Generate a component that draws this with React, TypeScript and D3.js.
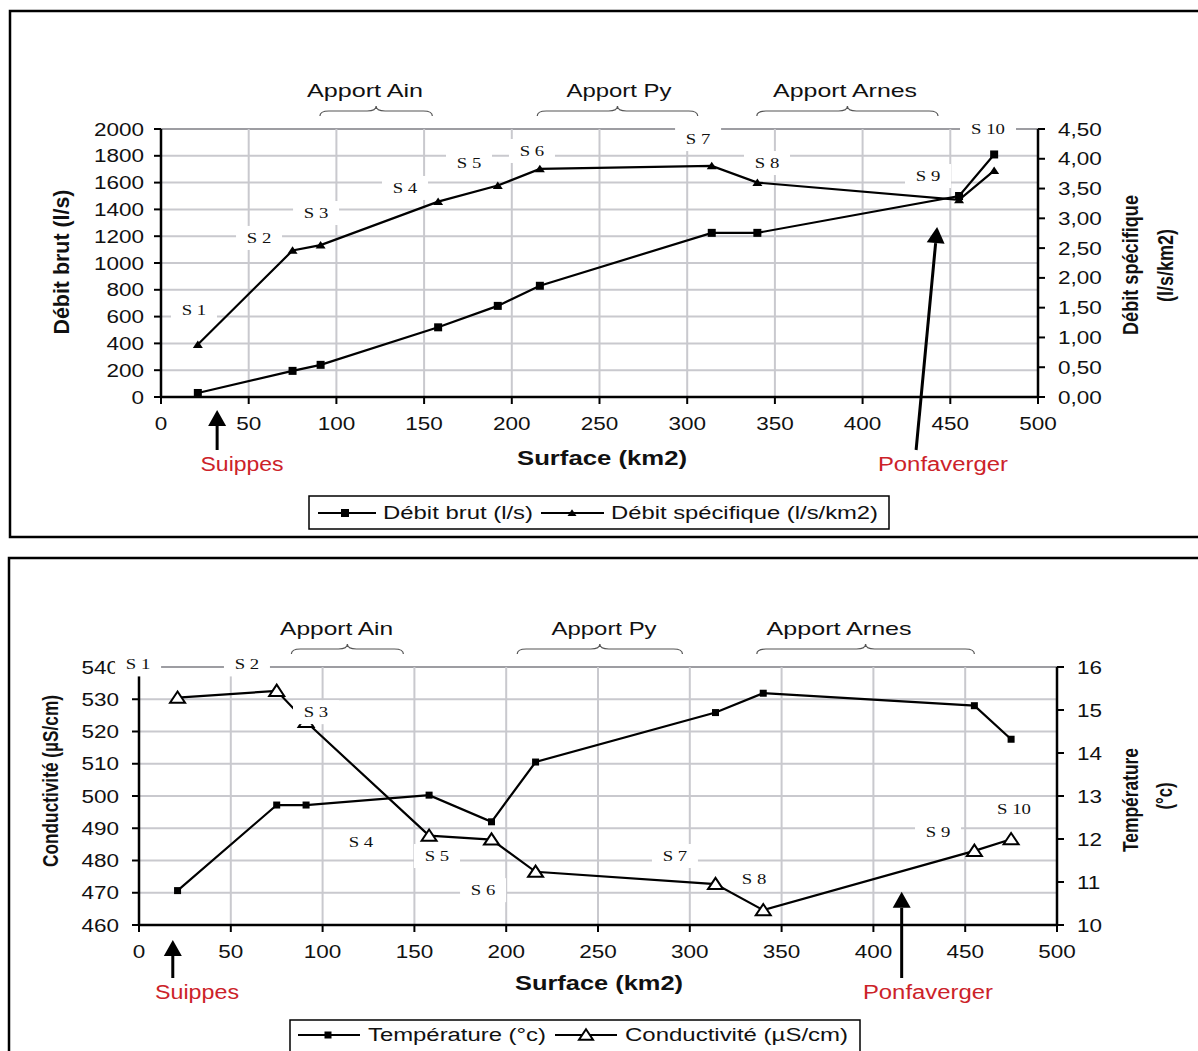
import React from 'react';
import * as d3 from 'd3';

// stations, from upstream (Suippes) to downstream (Ponfaverger)
const sites = ['S 1', 'S 2', 'S 3', 'S 4', 'S 5', 'S 6', 'S 7', 'S 8', 'S 9', 'S 10'];
const surface = [21, 75, 91, 158, 192, 216, 314, 340, 455, 475];

// chart 1
const debitBrut = [30, 195, 240, 520, 680, 830, 1225, 1225, 1500, 1810];
const debitSpecifique = [0.88, 2.46, 2.55, 3.28, 3.55, 3.83, 3.88, 3.6, 3.31, 3.8];

// chart 2
const temperature = [10.8, 12.79, 12.79, 13.02, 12.4, 13.79, 14.94, 15.39, 15.1, 14.32];
const conductivite = [530.5, 532.6, 523, 487.7, 486.5, 476.5, 472.7, 464.6, 483, 486.6];

const surfaceTicks = d3.range(0, 501, 50);
const debitTicks = d3.range(0, 2001, 200);
const specTicks = d3.range(0, 4.51, 0.5);
const condTicks = d3.range(460, 541, 10);
const tempTicks = d3.range(10, 17, 1);

const apports = ['Apport Ain', 'Apport Py', 'Apport Arnes'];

// annotation placement, in chart units (surface, left axis value)
const labelPosTop: [number, number][] = [
  [18.8, 649], [55.9, 1187], [88.4, 1373], [139.1, 1560], [175.6, 1746],
  [211.5, 1836], [306.2, 1925], [345.5, 1746], [437.3, 1649], [471.5, 2000],
];
const labelPosBottom: [number, number][] = [
  [-0.5, 540.8], [58.8, 540.8], [96.4, 526], [120.9, 485.7], [162.3, 481.4],
  [187.4, 470.8], [291.9, 481.4], [335, 474.2], [435.2, 488.8], [476.6, 495.9],
];
const braceTop = [[90.6, 154.7], [214.5, 306], [339.7, 443]];
const braceTextTop = [116.3, 261.1, 390];
const braceBottom = [[83, 144], [206, 296], [336.5, 455]];
const braceTextBottom = [107.6, 253.3, 381.3];

const FONT = '"Liberation Sans", Arial, sans-serif';
const NARROW = '"Liberation Sans Narrow", "Arial Narrow", "Liberation Sans", Arial, sans-serif';
const SERIF = '"Liberation Serif", "Times New Roman", serif';
const RED = '#cc2229';
const GRID = '#c9c9ce';

type Marker = 'square' | 'triFill' | 'triOpen';

interface Series {
  values: number[];
  axis: 'left' | 'right';
  marker: Marker;
  size: number;
}

interface Arrow {
  label: string;
  labelX: number;
  labelLen: number;
  tipX: number;
  tipVal: number | null; // null: tip sits under the x axis
  tipOff: number;
  tailX: number;
}

interface ChartProps {
  plot: { l: number; r: number; t: number; b: number };
  leftDomain: [number, number];
  rightDomain: [number, number];
  leftTicks: number[];
  rightTicks: number[];
  rightFmt: (v: number) => string;
  leftGap: number;
  series: Series[];
  labelPos: [number, number][];
  braces: number[][];
  braceText: number[];
  braceTextLen: number[];
  arrows: Arrow[];
  leftTitle: { text: string; cx: number; cy: number; len: number };
  rightTitle: { lines: string[]; cx: number[]; cy: number[]; len: number[] };
  xTitle: { cx: number; y: number; len: number };
}

const Stretch = ({ x, y, sx = 1.25, size = 18, anchor = 'start', family = FONT, weight = 'normal', fill = '#111', children }: any) => (
  <text
    transform={`translate(${x},${y}) scale(${sx},1)`}
    textAnchor={anchor}
    fontSize={size}
    fontFamily={family}
    fontWeight={weight}
    fill={fill}
  >
    {children}
  </text>
);

const Fixed = ({ x, y, len, size = 18, anchor = 'middle', family = FONT, weight = 'normal', fill = '#111', rotate = 0, children }: any) => (
  <text
    transform={`translate(${x},${y}) rotate(${rotate})`}
    textAnchor={anchor}
    fontSize={size}
    fontFamily={family}
    fontWeight={weight}
    fill={fill}
    textLength={len}
    lengthAdjust="spacingAndGlyphs"
  >
    {children}
  </text>
);

const MarkerShape = ({ kind, x, y, size }: { kind: Marker; x: number; y: number; size: number }) => {
  if (kind === 'square') {
    return <rect x={x - size / 2} y={y - size / 2} width={size} height={size} fill="#000" />;
  }
  const h = size * 0.75;
  const pts = `${x},${y - h * 0.55} ${x + size / 2},${y + h * 0.45} ${x - size / 2},${y + h * 0.45}`;
  if (kind === 'triFill') return <polygon points={pts} fill="#000" />;
  return <polygon points={pts} fill="#fff" stroke="#000" strokeWidth={2} strokeLinejoin="miter" />;
};

function bracePath(x1: number, x2: number, y: number) {
  const m = (x1 + x2) / 2;
  return `M${x1},${y + 5} Q${x1},${y} ${x1 + 9},${y} L${m - 9},${y} Q${m},${y} ${m},${y - 5} ` +
    `Q${m},${y} ${m + 9},${y} L${x2 - 9},${y} Q${x2},${y} ${x2},${y + 5}`;
}

const Chart = (p: ChartProps) => {
  const { l, r, t, b } = p.plot;
  const x = d3.scaleLinear().domain([0, 500]).range([l, r]);
  const yL = d3.scaleLinear().domain(p.leftDomain).range([b, t]);
  const yR = d3.scaleLinear().domain(p.rightDomain).range([b, t]);
  const fmtL = d3.format('d');

  return (
    <g>
      {/* grid */}
      {p.leftTicks.slice(1).map((v, i) => (
        <line key={`h${i}`} x1={l} x2={r} y1={yL(v)} y2={yL(v)}
          stroke={i === p.leftTicks.length - 2 ? '#9d9da2' : GRID} strokeWidth={2} />
      ))}
      {surfaceTicks.slice(1, -1).map((v) => (
        <line key={`v${v}`} x1={x(v)} x2={x(v)} y1={t} y2={b} stroke={GRID} strokeWidth={2} />
      ))}

      {/* axes */}
      <line x1={l} x2={l} y1={t} y2={b} stroke="#000" strokeWidth={2.5} />
      <line x1={r} x2={r} y1={t} y2={b} stroke="#000" strokeWidth={2.5} />
      <line x1={l} x2={r} y1={b} y2={b} stroke="#000" strokeWidth={2.5} />
      {p.leftTicks.map((v) => (
        <g key={`lt${v}`}>
          <line x1={l - 7} x2={l} y1={yL(v)} y2={yL(v)} stroke="#000" strokeWidth={2} />
          <Stretch x={l - p.leftGap} y={yL(v) + 6.5} anchor="end">{fmtL(v)}</Stretch>
        </g>
      ))}
      {p.rightTicks.map((v) => (
        <g key={`rt${v}`}>
          <line x1={r} x2={r + 7} y1={yR(v)} y2={yR(v)} stroke="#000" strokeWidth={2} />
          <Stretch x={r + 20} y={yR(v) + 6.5}>{p.rightFmt(v)}</Stretch>
        </g>
      ))}
      {surfaceTicks.map((v) => (
        <g key={`bt${v}`}>
          <line x1={x(v)} x2={x(v)} y1={b} y2={b + 7} stroke="#000" strokeWidth={2} />
          <Stretch x={x(v)} y={b + 33} anchor="middle">{v}</Stretch>
        </g>
      ))}

      {/* series */}
      {p.series.map((s, si) => {
        const ys = s.axis === 'left' ? yL : yR;
        const line = d3.line<number>().x((_, i) => x(surface[i])).y((d) => ys(d));
        return (
          <g key={`s${si}`}>
            <path d={line(s.values) || ''} fill="none" stroke="#000" strokeWidth={2.2} />
            {s.values.map((v, i) => (
              <MarkerShape key={i} kind={s.marker} x={x(surface[i])} y={ys(v)} size={s.size} />
            ))}
          </g>
        );
      })}

      {/* station labels */}
      {sites.map((s, i) => {
        const cx = x(p.labelPos[i][0]);
        const cy = yL(p.labelPos[i][1]);
        const w = s.length > 3 ? 56 : 46;
        return (
          <g key={`lab${i}`}>
            <rect x={cx - w / 2} y={cy - 12} width={w} height={24} fill="#fff" />
            <Stretch x={cx} y={cy + 5} size={15} sx={1.25} family={SERIF} anchor="middle">{s}</Stretch>
          </g>
        );
      })}

      {/* tributaries */}
      {apports.map((a, i) => (
        <g key={`ap${i}`}>
          <path d={bracePath(x(p.braces[i][0]), x(p.braces[i][1]), t - 18)} fill="none" stroke="#555" strokeWidth={1.2} />
          <Fixed x={x(p.braceText[i])} y={t - 32} len={p.braceTextLen[i]} size={19}>{a}</Fixed>
        </g>
      ))}

      {/* arrows */}
      {p.arrows.map((a, i) => {
        const tx = x(a.tipX);
        const ty = a.tipVal === null ? b + a.tipOff : yL(a.tipVal);
        const sx = x(a.tailX);
        const sy = b + 53;
        const ang = Math.atan2(ty - sy, tx - sx);
        const hl = 16;
        const hw = 9;
        const bx = tx - hl * Math.cos(ang);
        const by = ty - hl * Math.sin(ang);
        const px = -Math.sin(ang) * hw;
        const py = Math.cos(ang) * hw;
        return (
          <g key={`ar${i}`}>
            <line x1={sx} y1={sy} x2={bx} y2={by} stroke="#000" strokeWidth={3} />
            <polygon points={`${tx},${ty} ${bx + px},${by + py} ${bx - px},${by - py}`} fill="#000" />
            <Fixed x={x(a.labelX)} y={b + 74} len={a.labelLen} size={20} fill={RED}>{a.label}</Fixed>
          </g>
        );
      })}

      {/* titles */}
      <Fixed x={p.leftTitle.cx + 8} y={p.leftTitle.cy} len={p.leftTitle.len} size={22}
        family={NARROW} weight="bold" rotate={-90}>{p.leftTitle.text}</Fixed>
      {p.rightTitle.lines.map((ln, i) => (
        <Fixed key={`rt${i}`} x={p.rightTitle.cx[i] + 8} y={p.rightTitle.cy[i]} len={p.rightTitle.len[i]}
          size={22} family={NARROW} weight="bold" rotate={-90}>{ln}</Fixed>
      ))}
      <Fixed x={p.xTitle.cx} y={p.xTitle.y} len={p.xTitle.len} size={20} weight="bold">Surface (km2)</Fixed>
    </g>
  );
};

const comma = (v: number) => d3.format('.2f')(v).replace('.', ',');

export default function App() {
  return (
    <svg width={1198} height={1051} style={{ position: 'absolute', left: 0, top: 0, background: '#fff' }}>
      <rect x={0} y={0} width={1198} height={1051} fill="#fff" />

      {/* panel 1 */}
      <rect x={10} y={11} width={1200} height={526} fill="#fff" stroke="#000" strokeWidth={2.5} />
      <Chart
        plot={{ l: 161, r: 1038, t: 129, b: 397 }}
        leftDomain={[0, 2000]}
        rightDomain={[0, 4.5]}
        leftTicks={debitTicks}
        rightTicks={specTicks}
        rightFmt={comma}
        leftGap={17}
        series={[
          { values: debitBrut, axis: 'left', marker: 'square', size: 8 },
          { values: debitSpecifique, axis: 'right', marker: 'triFill', size: 10 },
        ]}
        labelPos={labelPosTop}
        braces={braceTop}
        braceText={braceTextTop}
        braceTextLen={[116, 105, 144]}
        arrows={[
          { label: 'Suippes', labelX: 46.2, labelLen: 83, tipX: 32, tipVal: null, tipOff: 13, tailX: 32 },
          { label: 'Ponfaverger', labelX: 445.8, labelLen: 130, tipX: 442.5, tipVal: 1268, tipOff: 0, tailX: 430.5 },
        ]}
        leftTitle={{ text: 'Débit brut (l/s)', cx: 61, cy: 262, len: 145 }}
        rightTitle={{ lines: ['Débit spécifique', '(l/s/km2)'], cx: [1130, 1165], cy: [265, 265.5], len: [140, 73] }}
        xTitle={{ cx: 602, y: 465, len: 170 }}
      />
      <rect x={309} y={496} width={580} height={33} fill="#fff" stroke="#000" strokeWidth={1.5} />
      <line x1={318} x2={376} y1={513} y2={513} stroke="#000" strokeWidth={2} />
      <MarkerShape kind="square" x={345} y={513} size={8} />
      <Fixed x={383} y={519} len={150} anchor="start">Débit brut (l/s)</Fixed>
      <line x1={541} x2={604} y1={513} y2={513} stroke="#000" strokeWidth={2} />
      <MarkerShape kind="triFill" x={572} y={513} size={9} />
      <Fixed x={611} y={519} len={267} anchor="start">Débit spécifique (l/s/km2)</Fixed>

      {/* panel 2 */}
      <rect x={9} y={558} width={1200} height={520} fill="#fff" stroke="#000" strokeWidth={2.5} />
      <Chart
        plot={{ l: 139, r: 1057, t: 667, b: 925 }}
        leftDomain={[460, 540]}
        rightDomain={[10, 16]}
        leftTicks={condTicks}
        rightTicks={tempTicks}
        rightFmt={(v) => String(v)}
        leftGap={20}
        series={[
          { values: temperature, axis: 'right', marker: 'square', size: 7 },
          { values: conductivite, axis: 'left', marker: 'triOpen', size: 15 },
        ]}
        labelPos={labelPosBottom}
        braces={braceBottom}
        braceText={braceTextBottom}
        braceTextLen={[113, 105, 145]}
        arrows={[
          { label: 'Suippes', labelX: 31.6, labelLen: 84, tipX: 18.4, tipVal: null, tipOff: 15, tailX: 18.4 },
          { label: 'Ponfaverger', labelX: 429.7, labelLen: 130, tipX: 415.4, tipVal: 470.3, tipOff: 0, tailX: 415.4 },
        ]}
        leftTitle={{ text: 'Conductivité (µS/cm)', cx: 50, cy: 781, len: 172 }}
        rightTitle={{ lines: ['Température', '(°c)'], cx: [1130, 1164], cy: [800, 796], len: [104, 27] }}
        xTitle={{ cx: 599, y: 990, len: 168 }}
      />
      <rect x={290} y={1020} width={570} height={50} fill="#fff" stroke="#000" strokeWidth={1.5} />
      <line x1={298} x2={360} y1={1035} y2={1035} stroke="#000" strokeWidth={2} />
      <MarkerShape kind="square" x={328} y={1035} size={7} />
      <Fixed x={368} y={1041} len={178} anchor="start">Température (°c)</Fixed>
      <line x1={555} x2={617} y1={1035} y2={1035} stroke="#000" strokeWidth={2} />
      <MarkerShape kind="triOpen" x={586} y={1035} size={14} />
      <Fixed x={625} y={1041} len={223} anchor="start">Conductivité (µS/cm)</Fixed>
    </svg>
  );
}
